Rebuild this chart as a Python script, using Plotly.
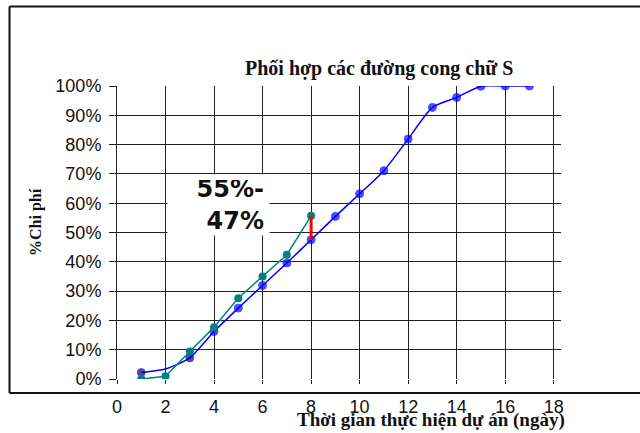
import plotly.graph_objects as go

# ---- data ----
plan_x = [1, 2, 3, 4, 5, 6, 7, 8, 9, 10, 11, 12, 13, 14, 15, 16, 17]
plan_y = [0.022, 0.034, 0.072, 0.162, 0.242, 0.319, 0.396, 0.475, 0.555, 0.632, 0.711,
          0.819, 0.927, 0.961, 0.999, 1.0, 1.0]
plan_marker_colors = ["#000080", "#000080", "#000080"] + ["#0000FF"] * 14
plan_marker_sizes = [8, 0, 8] + [8] * 14   # no marker was plotted on day 2

actual_x = [1, 2, 3, 4, 5, 6, 7, 8]
actual_y = [0.0, 0.009, 0.094, 0.177, 0.276, 0.350, 0.424, 0.557]

gap_x = 8
gap_label = "55%-<br>47%"
title_text = "Phối hợp các đường cong chữ S"
x_title = "Thời gian thực hiện dự án (ngày)"
y_title = "%Chi phí"

x_ticks = list(range(0, 19, 2))
y_ticks = [i / 10 for i in range(11)]
y_ticklabels = [f"{i * 10}%" for i in range(11)]

# plot-area geometry (pixels) used for decorative paper shapes
W, H = 640, 433
L, R, T, B = 117, 79, 86, 54

fig = go.Figure()

fig.add_trace(go.Scatter(
    x=plan_x, y=plan_y, mode="lines+markers",
    line=dict(color="#0000FF", width=1.5, shape="spline", smoothing=0.6),
    marker=dict(color=plan_marker_colors, size=plan_marker_sizes),
    showlegend=False, hoverinfo="skip"))

fig.add_trace(go.Scatter(
    x=actual_x, y=actual_y, mode="lines+markers",
    line=dict(color="#008080", width=1.5),
    marker=dict(color="#008080", size=8),
    showlegend=False, hoverinfo="skip"))

# red gap line at day 8
gy_plan = plan_y[plan_x.index(gap_x)]
gy_act = actual_y[actual_x.index(gap_x)]
fig.add_trace(go.Scatter(
    x=[gap_x, gap_x], y=[gy_plan, gy_act], mode="lines",
    line=dict(color="#FF0000", width=3),
    showlegend=False, hoverinfo="skip"))

grid = "#222222"
fig.update_xaxes(
    range=[0, 18.3], tickvals=x_ticks, ticktext=[str(v) for v in x_ticks],
    showgrid=True, gridcolor=grid, gridwidth=1, zeroline=False,
    ticks="outside", ticklen=4, tickcolor=grid, showline=False,
    tickfont=dict(family="Liberation Sans, Arial", size=18, color="#111"),
    ticklabelstandoff=7)
fig.update_yaxes(
    range=[0, 1], tickvals=y_ticks, ticktext=y_ticklabels,
    showgrid=True, gridcolor=grid, gridwidth=1, zeroline=False,
    ticks="outside", ticklen=7, tickcolor=grid,
    showline=True, linecolor=grid, linewidth=1,
    tickfont=dict(family="Liberation Sans, Arial", size=18, color="#111"),
    ticklabelstandoff=4)

pw = W - L - R
ph = H - T - B


def px2paper_x(px):
    return (px - L) / pw


def px2paper_y(py):
    return (H - B - py) / ph


# outer chart border (left, top, bottom)
border = dict(color="#111", width=2)
fig.add_shape(type="line", xref="paper", yref="paper",
              x0=px2paper_x(9.5), x1=px2paper_x(641), y0=px2paper_y(6.5), y1=px2paper_y(6.5),
              line=border)
fig.add_shape(type="line", xref="paper", yref="paper",
              x0=px2paper_x(9.5), x1=px2paper_x(9.5), y0=px2paper_y(6.5), y1=px2paper_y(393),
              line=border)
fig.add_shape(type="line", xref="paper", yref="paper",
              x0=px2paper_x(9.5), x1=px2paper_x(641), y0=px2paper_y(393), y1=px2paper_y(393),
              line=border)

centered = dict(xref="paper", yref="paper", showarrow=False,
                xanchor="center", yanchor="middle")
serif = "Liberation Serif, Times New Roman"

# title
fig.add_annotation(text=f"<b>{title_text}</b>", x=px2paper_x(379), y=px2paper_y(68),
                   font=dict(family=serif, size=20, color="#111"), **centered)
# x title
fig.add_annotation(text=f"<b>{x_title}</b>", x=px2paper_x(431), y=px2paper_y(420),
                   font=dict(family=serif, size=19, color="#111"), **centered)
# y title
fig.add_annotation(text=f"<b>{y_title}</b>", x=px2paper_x(36), y=px2paper_y(222),
                   textangle=-90, font=dict(family=serif, size=16, color="#111"), **centered)
# gap label box
fig.add_annotation(text=f"<b>{gap_label}</b>", x=px2paper_x(218), y=px2paper_y(205),
                   align="right", bgcolor="white", width=91, height=50, borderpad=5,
                   font=dict(family="DejaVu Sans", size=24, color="#111"), **centered)

fig.update_layout(
    width=W, height=H, margin=dict(l=L, r=R, t=T, b=B),
    paper_bgcolor="white", plot_bgcolor="white", showlegend=False)

fig.write_html("out.html")
